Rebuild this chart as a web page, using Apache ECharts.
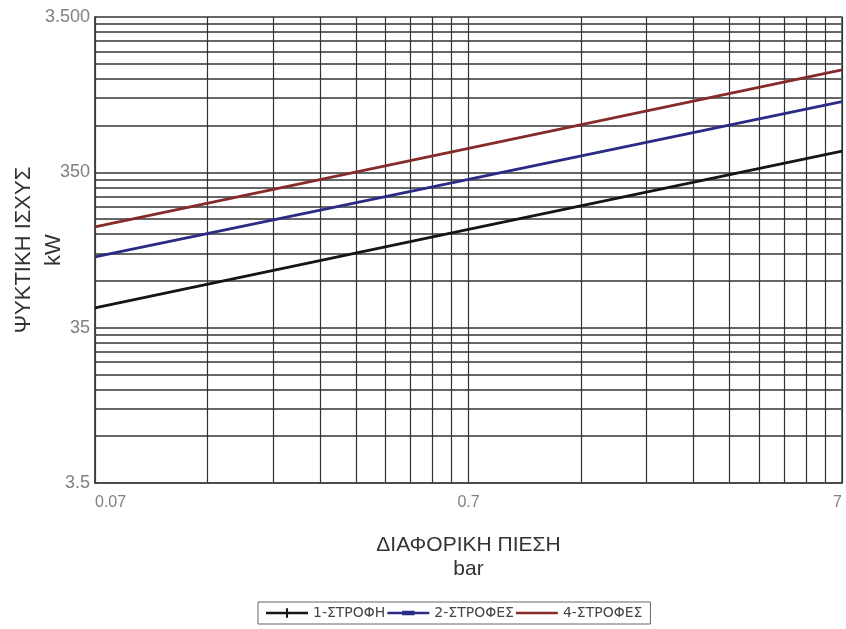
<!DOCTYPE html>
<html>
<head>
<meta charset="utf-8">
<script src="https://cdn.jsdelivr.net/npm/echarts@6/dist/echarts.min.js"></script>
<style>
  html, body { margin: 0; padding: 0; background: #fff; }
  #chartBox { width: 846px; height: 629px; }
</style>
</head>
<body>
<div id="chartBox"></div>
<script>
// τιμές διαβασμένες από το διάγραμμα (log-log)
var pressure = [0.07, 0.7, 7];
var strofi1 = [47, 150, 480];
var strofes2 = [100, 315, 1000];
var strofes4 = [156, 500, 1600];

var xLabels = [0.07, 0.7, 7];
var yLabels = [3.5, 35, 350, 3500];

// γραμμές πλέγματος: 1..9 φορές κάθε δεκάδα
function decadeLines(bases, last) {
  var out = [];
  for (var i = 0; i < bases.length; i++) {
    for (var k = 1; k <= 9; k++) {
      out.push(+(bases[i] * k).toFixed(4));
    }
  }
  out.push(last);
  return out;
}
var xGrid = decadeLines([0.07, 0.7], 7);
var yGrid = decadeLines([3.5, 35, 350], 3500);

function pairs(ys) {
  return pressure.map(function (p, i) { return [p, ys[i]]; });
}

function fmtY(v) {
  if (v >= 1000) {
    var s = String(Math.round(v));
    return s.slice(0, s.length - 3) + "." + s.slice(s.length - 3);
  }
  return String(v);
}

var lineIcon = "path://M0,3.8H40V6.2H0Z";
var crossIcon = "path://M0,3.8H40V6.2H0Z M19,0.5H21V9.5H19Z";
var dashIcon = "path://M0,3.8H40V6.2H0Z M14,2.8H26V7.2H14Z";

var chart = echarts.init(document.getElementById("chartBox"));

var option = {
  animation: false,
  textStyle: { fontFamily: "Liberation Sans, Arial, sans-serif" },
  grid: {
    left: 95,
    right: 4,
    top: 17,
    bottom: 146,
    outerBoundsMode: "none",
    containLabel: false,
    show: true,
    borderColor: "#444",
    borderWidth: 1.5
  },
  legend: {
    bottom: 5,
    left: 258,
    itemWidth: 42,
    itemHeight: 10,
    itemGap: 2,
    padding: [4, 8],
    borderColor: "#666",
    borderWidth: 1,
    borderRadius: 0,
    textStyle: { fontSize: 14, color: "#444", fontFamily: "DejaVu Sans" },
    data: [
      { name: "1-ΣΤΡΟΦΗ", icon: crossIcon },
      { name: "2-ΣΤΡΟΦΕΣ", icon: dashIcon },
      { name: "4-ΣΤΡΟΦΕΣ", icon: lineIcon }
    ]
  },
  xAxis: {
    type: "log",
    logBase: 10,
    min: 0.07,
    max: 7,
    name: "ΔΙΑΦΟΡΙΚΗ ΠΙΕΣΗ\nbar",
    nameLocation: "middle",
    nameGap: 50,
    nameMoveOverlap: false,
    nameTextStyle: { fontSize: 21, color: "#333", lineHeight: 24 },
    axisLine: { lineStyle: { color: "#444", width: 1.5 } },
    axisTick: { show: false, customValues: xGrid },
    axisLabel: {
      customValues: xLabels,
      color: "#808080",
      fontSize: 16,
      margin: 12,
      alignMinLabel: "left",
      alignMaxLabel: "right",
      formatter: function (v) { return String(+v.toFixed(2)); }
    },
    splitLine: { show: true, lineStyle: { color: "#333", width: 1.2 } }
  },
  yAxis: {
    type: "log",
    logBase: 10,
    min: 3.5,
    max: 3500,
    name: "ΨΥΚΤΙΚΗ ΙΣΧΥΣ\nkW",
    nameLocation: "middle",
    nameGap: 26,
    nameMoveOverlap: false,
    nameTextStyle: { fontSize: 22, color: "#333", lineHeight: 30 },
    axisLine: { lineStyle: { color: "#444", width: 1.5 } },
    axisTick: { show: false, customValues: yGrid },
    axisLabel: {
      customValues: yLabels,
      color: "#808080",
      fontSize: 18,
      margin: 5,
      formatter: fmtY
    },
    splitLine: { show: true, lineStyle: { color: "#666", width: 1.8 } }
  },
  series: [
    {
      name: "1-ΣΤΡΟΦΗ",
      type: "line",
      data: pairs(strofi1),
      symbol: "none",
      lineStyle: { color: "#151515", width: 2.8 },
      itemStyle: { color: "#151515" }
    },
    {
      name: "2-ΣΤΡΟΦΕΣ",
      type: "line",
      data: pairs(strofes2),
      symbol: "none",
      lineStyle: { color: "#2b2b86", width: 2.8 },
      itemStyle: { color: "#2b2b86" }
    },
    {
      name: "4-ΣΤΡΟΦΕΣ",
      type: "line",
      data: pairs(strofes4),
      symbol: "none",
      lineStyle: { color: "#862b2b", width: 2.8 },
      itemStyle: { color: "#862b2b" }
    }
  ]
};

chart.setOption(option);
</script>
</body>
</html>
